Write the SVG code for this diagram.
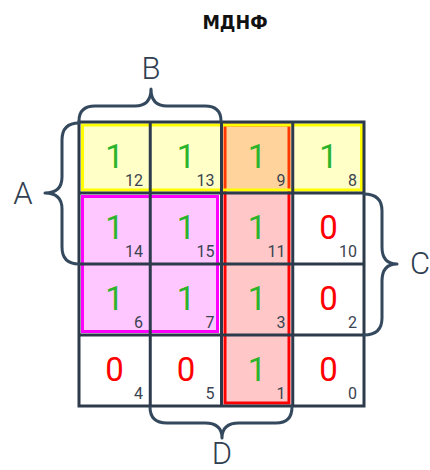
<svg xmlns="http://www.w3.org/2000/svg" width="430" height="470" viewBox="0 0 430 470">
<style>
.big{font-family:Roboto,"Liberation Sans",sans-serif;font-size:33px;text-anchor:middle}
.one{fill:#2cb52c}
.zero{fill:#ff0000}
.idx{font-family:Roboto,"Liberation Sans",sans-serif;font-size:16px;fill:#3a4350;text-anchor:end}
.lbl{font-family:Roboto,"Liberation Sans",sans-serif;font-size:31px;font-weight:300;fill:#2f3e50;text-anchor:middle}
.brace{fill:none;stroke:#34495e;stroke-width:3;stroke-linejoin:round;stroke-linecap:round}
.grid{fill:none;stroke:#2c3a4b;stroke-width:3}
</style>
<rect width="430" height="470" fill="#ffffff"/>
<text x="235" y="29" font-family="'DejaVu Sans Condensed','DejaVu Sans',sans-serif" font-weight="bold" font-size="19.5" text-anchor="middle" fill="#111111">МДНФ</text>

<g id="groups">
  <rect id="group-red" x="225" y="125" width="64" height="278" fill="rgba(255,0,0,0.22)" stroke="#ff0000" stroke-width="3"/>
  <rect id="group-yellow" x="82.5" y="125" width="279" height="65" fill="rgba(255,255,0,0.22)" stroke="#ffff00" stroke-width="3"/>
  <rect id="group-magenta" x="82.5" y="196.5" width="135" height="135" fill="rgba(255,0,255,0.22)" stroke="#ff00ff" stroke-width="3"/>
</g>

<g id="grid" class="grid">
  <rect x="79" y="122" width="285" height="284"/>
  <line x1="150.25" y1="122" x2="150.25" y2="406"/>
  <line x1="221.5" y1="122" x2="221.5" y2="406"/>
  <line x1="292.75" y1="122" x2="292.75" y2="406"/>
  <line x1="79" y1="193" x2="364" y2="193"/>
  <line x1="79" y1="264" x2="364" y2="264"/>
  <line x1="79" y1="335" x2="364" y2="335"/>
</g>

<g id="cell-12"><text class="big one" x="114.6" y="168">1</text><text class="idx" x="143" y="186">12</text></g>
<g id="cell-13"><text class="big one" x="185.9" y="168">1</text><text class="idx" x="214.5" y="186">13</text></g>
<g id="cell-9"><text class="big one" x="257.1" y="168">1</text><text class="idx" x="285.5" y="186">9</text></g>
<g id="cell-8"><text class="big one" x="328.4" y="168">1</text><text class="idx" x="357" y="186">8</text></g>

<g id="cell-14"><text class="big one" x="114.6" y="239">1</text><text class="idx" x="143" y="257">14</text></g>
<g id="cell-15"><text class="big one" x="185.9" y="239">1</text><text class="idx" x="214.5" y="257">15</text></g>
<g id="cell-11"><text class="big one" x="257.1" y="239">1</text><text class="idx" x="285.5" y="257">11</text></g>
<g id="cell-10"><text class="big zero" x="328.4" y="239">0</text><text class="idx" x="357" y="257">10</text></g>

<g id="cell-6"><text class="big one" x="114.6" y="310">1</text><text class="idx" x="143" y="328">6</text></g>
<g id="cell-7"><text class="big one" x="185.9" y="310">1</text><text class="idx" x="214.5" y="328">7</text></g>
<g id="cell-3"><text class="big one" x="257.1" y="310">1</text><text class="idx" x="285.5" y="328">3</text></g>
<g id="cell-2"><text class="big zero" x="328.4" y="310">0</text><text class="idx" x="357" y="328">2</text></g>

<g id="cell-4"><text class="big zero" x="114.6" y="381">0</text><text class="idx" x="143" y="399">4</text></g>
<g id="cell-5"><text class="big zero" x="185.9" y="381">0</text><text class="idx" x="214.5" y="399">5</text></g>
<g id="cell-1"><text class="big one" x="257.1" y="381">1</text><text class="idx" x="285.5" y="399">1</text></g>
<g id="cell-0"><text class="big zero" x="328.4" y="381">0</text><text class="idx" x="357" y="399">0</text></g>

<g id="braces">
  <path class="brace" d="M79,121 Q79,106 95,106 L135,106 Q151,106 151,89 Q151,106 167,106 L205,106 Q221,106 221,121"/>
  <path class="brace" d="M79,123 Q62,123 62,140 L62,177 Q62,193 45,193 Q62,193 62,209 L62,247 Q62,264 79,264"/>
  <path class="brace" d="M364,194 Q382,194 382,211 L382,247 Q382,264 397,264 Q382,264 382,281 L382,318 Q382,335 364,335"/>
  <path class="brace" d="M150,407 Q150,423 167,423 L205,423 Q222,423 222,438 Q222,423 239,423 L276,423 Q292,423 292,407"/>
</g>

<g id="label-B"><text class="lbl" x="151" y="79">B</text></g>
<g id="label-A"><text class="lbl" x="23" y="204">A</text></g>
<g id="label-C"><text class="lbl" x="420" y="274">C</text></g>
<g id="label-D"><text class="lbl" x="222" y="464">D</text></g>
</svg>
